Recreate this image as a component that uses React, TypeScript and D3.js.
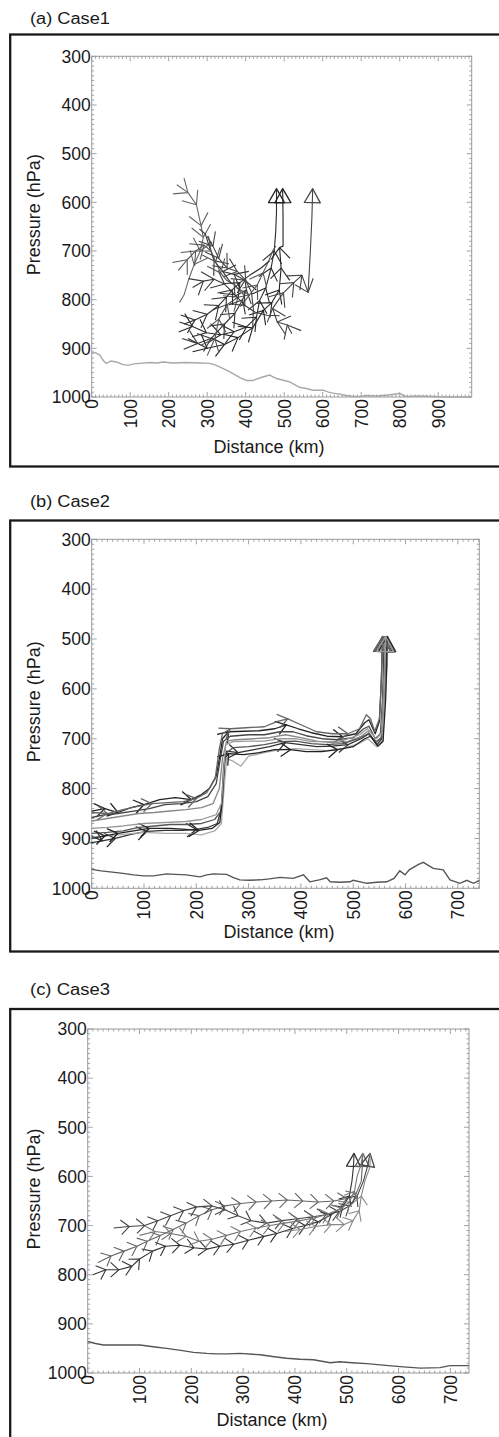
import * as d3 from "d3";
import { useEffect, useRef } from "react";

type Pt = [number, number]; // [distance km, pressure hPa]

// ---------- (a) Case1 ----------
const caseOneGround: Pt[] = [
  [0, 907], [12, 910], [21, 914], [30, 925], [38, 931], [50, 926], [64, 928], [80, 933], [94, 935],
  [110, 932], [125, 931], [150, 929], [170, 930], [185, 928], [210, 930], [246, 929], [280, 930],
  [306, 931], [320, 934], [332, 938], [350, 945], [367, 952], [385, 960], [402, 966], [419, 966],
  [440, 960], [462, 955], [480, 962], [500, 966], [514, 969], [528, 975], [540, 980], [560, 983],
  [575, 986], [601, 986], [615, 990], [627, 992], [645, 994], [661, 997], [680, 999], [696, 999],
  [713, 997], [740, 998], [770, 996], [800, 993], [817, 999], [850, 998], [887, 999], [930, 1000],
  [987, 1000],
];

const caseOneTracks: Pt[][] = [
  [[221, 564], [250, 580], [272, 605], [284, 648], [290, 672], [282, 700], [266, 728], [252, 758], [240, 790], [228, 806]],
  [[228, 846], [262, 855], [298, 868], [335, 872], [370, 866], [402, 856], [428, 836], [436, 802], [452, 776], [466, 735], [474, 700], [478, 660], [480, 620], [480, 572]],
  [[250, 880], [300, 900], [345, 892], [380, 878], [418, 858], [446, 822], [468, 806], [487, 780], [492, 735], [488, 693], [497, 690], [497, 630], [496, 572]],
  [[520, 870], [508, 852], [482, 846], [470, 818], [498, 786], [525, 765], [546, 750], [562, 785], [568, 700], [572, 630], [574, 572]],
  [[235, 880], [275, 890], [310, 880], [345, 850], [372, 828], [392, 800], [402, 780], [398, 760], [370, 748], [340, 742], [318, 720], [305, 690], [295, 665], [280, 655]],
  [[300, 915], [320, 880], [330, 840], [352, 810], [380, 795], [410, 790], [430, 770], [445, 745], [460, 720], [470, 700], [478, 690]],
  [[262, 775], [290, 762], [318, 758], [345, 768], [372, 790], [398, 812], [425, 826], [455, 832], [488, 833]],
  [[225, 740], [248, 718], [270, 700], [292, 688], [310, 700], [322, 722], [335, 745], [350, 760], [372, 770], [395, 790]],
  [[240, 850], [268, 842], [300, 830], [330, 812], [350, 795], [365, 780], [385, 765], [410, 750], [440, 735], [462, 720]],
  [[300, 670], [315, 690], [330, 715], [352, 735], [378, 742], [400, 760], [415, 785], [420, 820], [418, 860]],
];
const caseOneShades = ["#666", "#2a2a2a", "#222", "#444", "#333", "#555", "#3a3a3a", "#555", "#2e2e2e", "#444"];
const caseOneArrowTracks = [1, 2, 3];

// ---------- (b) Case2 ----------
const caseTwoGround: Pt[] = [
  [0, 962], [18, 965], [35, 967], [60, 970], [80, 973], [100, 975], [118, 975], [143, 971], [160, 972],
  [181, 973], [207, 977], [220, 973], [233, 971], [258, 972], [270, 978], [283, 983], [300, 984],
  [322, 983], [340, 981], [360, 978], [385, 980], [405, 973], [417, 987], [435, 983], [449, 979],
  [456, 987], [475, 988], [494, 987], [500, 984], [526, 990], [545, 988], [564, 987], [578, 980],
  [589, 965], [599, 973], [607, 963], [615, 958], [625, 952], [634, 948], [645, 955], [653, 960],
  [672, 963], [685, 983], [704, 990], [717, 984], [730, 990], [741, 984],
];

const caseTwoTracks: Pt[][] = [
  [[0, 845], [25, 840], [50, 848], [75, 838], [100, 832], [130, 822], [160, 818], [190, 822], [210, 812], [225, 800], [238, 775], [245, 735], [250, 700], [262, 686], [290, 685], [320, 684], [350, 680], [372, 672], [395, 680], [420, 688], [450, 695], [480, 696], [505, 690], [522, 668], [530, 662], [542, 690], [550, 665], [553, 600], [555, 540], [556, 495]],
  [[0, 858], [25, 852], [50, 850], [80, 845], [110, 840], [140, 832], [170, 830], [200, 826], [222, 816], [238, 790], [246, 740], [252, 705], [265, 695], [300, 692], [330, 692], [360, 686], [385, 686], [410, 694], [440, 700], [470, 702], [500, 698], [520, 680], [530, 675], [542, 700], [552, 690], [556, 620], [558, 550], [559, 495]],
  [[0, 865], [30, 860], [60, 855], [90, 850], [120, 848], [150, 845], [180, 842], [210, 838], [232, 830], [244, 800], [250, 740], [258, 705], [275, 702], [310, 700], [340, 698], [370, 692], [400, 698], [430, 705], [460, 708], [490, 706], [515, 695], [528, 685], [543, 708], [553, 700], [557, 620], [560, 550], [561, 495]],
  [[0, 895], [20, 905], [45, 900], [75, 892], [105, 886], [140, 884], [175, 884], [200, 882], [222, 878], [240, 870], [248, 840], [252, 760], [258, 725], [280, 728], [310, 722], [340, 716], [370, 708], [400, 712], [430, 716], [460, 715], [490, 712], [515, 700], [530, 690], [545, 712], [555, 700], [559, 620], [562, 550], [563, 495]],
  [[0, 890], [30, 888], [60, 885], [90, 878], [120, 875], [150, 872], [180, 872], [210, 870], [235, 862], [247, 845], [252, 790], [256, 730], [270, 718], [300, 716], [330, 712], [360, 706], [390, 705], [420, 710], [450, 712], [480, 710], [510, 700], [528, 690], [544, 706], [556, 695], [560, 620], [563, 550], [564, 495]],
  [[0, 898], [30, 895], [60, 892], [100, 888], [140, 890], [180, 890], [210, 893], [235, 885], [248, 870], [253, 800], [258, 740], [270, 745], [285, 755], [300, 735], [330, 728], [360, 722], [390, 720], [420, 722], [450, 724], [480, 720], [510, 710], [528, 700], [545, 716], [556, 705], [561, 620], [565, 550], [566, 495]],
  [[0, 900], [25, 895], [50, 890], [80, 885], [110, 880], [150, 880], [180, 882], [205, 884], [230, 880], [245, 868], [250, 820], [254, 740], [262, 730], [290, 732], [320, 728], [350, 722], [380, 722], [410, 726], [440, 726], [470, 722], [500, 716], [522, 700], [533, 695], [547, 715], [557, 705], [562, 620], [564, 550], [565, 495]],
  [[0, 848], [30, 850], [60, 842], [90, 835], [115, 830], [145, 828], [175, 826], [200, 820], [220, 808], [236, 780], [244, 720], [250, 690], [265, 680], [295, 678], [330, 676], [355, 665], [375, 660], [400, 672], [430, 686], [460, 690], [490, 690], [512, 680], [525, 652], [533, 660], [541, 685], [550, 660], [554, 580], [555, 530], [557, 495]],
  [[0, 880], [30, 878], [60, 875], [100, 870], [140, 868], [180, 866], [210, 862], [238, 852], [248, 830], [252, 770], [256, 712], [270, 706], [300, 705], [330, 705], [360, 700], [390, 700], [420, 706], [450, 706], [480, 704], [512, 692], [527, 680], [544, 700], [555, 688], [559, 610], [561, 550], [562, 495]],
];
const caseTwoShades = ["#222", "#444", "#888", "#333", "#555", "#aaa", "#222", "#666", "#999"];
const caseTwoArrowTracks = [0, 1, 2, 3, 4, 5, 6, 7, 8];
const caseTwoBarbStations = [15, 40, 110, 200, 275, 375, 480];
const caseTwoBarbTracks = [0, 3, 6, 7];

// ---------- (c) Case3 ----------
const caseThreeGround: Pt[] = [
  [0, 936], [15, 940], [30, 943], [60, 943], [101, 943], [130, 947], [152, 950], [180, 954], [204, 958],
  [230, 960], [249, 961], [270, 961], [294, 960], [333, 963], [360, 967], [384, 970], [410, 972],
  [436, 973], [468, 979], [487, 977], [510, 979], [539, 981], [570, 984], [603, 987], [642, 990],
  [680, 989], [699, 985], [736, 985],
];

const caseThreeTracks: Pt[][] = [
  [[10, 800], [35, 790], [60, 790], [85, 783], [100, 768], [125, 752], [150, 742], [178, 740], [205, 745], [230, 748], [255, 742], [282, 738], [310, 730], [340, 722], [365, 716], [395, 706], [420, 700], [445, 692], [470, 678], [492, 662], [505, 640], [510, 610], [513, 580], [514, 553]],
  [[20, 775], [45, 762], [70, 752], [95, 742], [115, 732], [140, 720], [165, 708], [190, 695], [215, 680], [240, 668], [265, 660], [295, 655], [325, 652], [355, 650], [385, 648], [415, 650], [445, 652], [475, 650], [500, 645], [518, 635], [528, 610], [530, 580], [531, 553]],
  [[50, 705], [80, 702], [110, 700], [135, 690], [160, 680], [185, 670], [210, 662], [240, 660], [265, 668], [290, 680], [315, 690], [345, 695], [375, 690], [405, 686], [435, 682], [460, 678], [485, 672], [505, 660], [520, 640], [532, 610], [540, 580], [545, 553]],
  [[100, 720], [130, 712], [160, 716], [190, 722], [215, 732], [240, 728], [268, 720], [295, 712], [325, 705], [352, 700], [380, 695], [410, 690], [440, 684], [465, 676], [490, 665], [505, 652], [515, 630], [520, 600], [528, 575], [531, 553]],
  [[380, 712], [410, 708], [440, 702], [470, 698], [495, 698], [512, 690], [524, 670], [528, 640], [535, 610], [545, 580], [545, 553]],
];
const caseThreeShades = ["#333", "#666", "#444", "#777", "#888"];
const caseThreeArrowTracks = [0, 1, 2];

const pressureTicks = [300, 400, 500, 600, 700, 800, 900, 1000];
const caseOneDistanceTicks = [0, 100, 200, 300, 400, 500, 600, 700, 800, 900];
const caseTwoDistanceTicks = [0, 100, 200, 300, 400, 500, 600, 700];
const caseThreeDistanceTicks = [0, 100, 200, 300, 400, 500, 600, 700];

const FONT = "'Liberation Sans', Arial, Helvetica, sans-serif";
const INK = "#1a1a1a";

interface PanelSpec {
  title: string;
  titleY: number;
  boxTop: number;
  boxBottom: number;
  left: number;
  right: number;
  top: number;
  bottom: number;
  xMax: number;
  xTicks: number[];
  xTitleX: number;
  xTitleY: number;
  ground: Pt[];
  groundColor: string;
  tracks: Pt[][];
  shades: string[];
  arrows: number[];
  barbStations: number[] | null;
  barbTracks: number[] | null;
  barbLen: number;
  barbAngle: number;
  lineWidth: number;
  arrowH: number;
  arrowW: number;
}

const panels: PanelSpec[] = [
  {
    title: "(a) Case1", titleY: 23.5, boxTop: 34.5, boxBottom: 466.5,
    left: 91.7, right: 471.7, top: 56.3, bottom: 397, xMax: 987, xTicks: caseOneDistanceTicks,
    xTitleX: 269, xTitleY: 453, ground: caseOneGround, groundColor: "#a8a8a8",
    tracks: caseOneTracks, shades: caseOneShades, arrows: caseOneArrowTracks,
    barbStations: null, barbTracks: null, barbLen: 15, barbAngle: 40, lineWidth: 1.1, arrowH: 14, arrowW: 16,
  },
  {
    title: "(b) Case2", titleY: 507, boxTop: 520.5, boxBottom: 951.5,
    left: 91.7, right: 479.3, top: 539.3, bottom: 888.3, xMax: 741, xTicks: caseTwoDistanceTicks,
    xTitleX: 279, xTitleY: 937.5, ground: caseTwoGround, groundColor: "#555",
    tracks: caseTwoTracks, shades: caseTwoShades, arrows: caseTwoArrowTracks,
    barbStations: caseTwoBarbStations, barbTracks: caseTwoBarbTracks, barbLen: 12, barbAngle: 35, lineWidth: 1.3, arrowH: 15, arrowW: 17,
  },
  {
    title: "(c) Case3", titleY: 995, boxTop: 1009, boxBottom: 1460,
    left: 87.7, right: 469, top: 1029, bottom: 1373, xMax: 736, xTicks: caseThreeDistanceTicks,
    xTitleX: 272, xTitleY: 1425.5, ground: caseThreeGround, groundColor: "#555",
    tracks: caseThreeTracks, shades: caseThreeShades, arrows: caseThreeArrowTracks,
    barbStations: null, barbTracks: null, barbLen: 11, barbAngle: 42, lineWidth: 1.1, arrowH: 13, arrowW: 14,
  },
];

function drawPanel(svg: d3.Selection<SVGSVGElement, unknown, null, undefined>, p: PanelSpec) {
  const g = svg.append("g");
  const x = d3.scaleLinear().domain([0, p.xMax]).range([p.left, p.right]);
  const y = d3.scaleLinear().domain([300, 1000]).range([p.top, p.bottom]);

  // title + outer frame
  g.append("text")
    .attr("x", 30)
    .attr("y", p.titleY)
    .attr("textLength", 80)
    .attr("lengthAdjust", "spacingAndGlyphs")
    .style("font-family", FONT)
    .style("font-size", "16px")
    .style("fill", INK)
    .text(p.title);

  g.append("rect")
    .attr("x", 10.2)
    .attr("y", p.boxTop)
    .attr("width", 520)
    .attr("height", p.boxBottom - p.boxTop)
    .attr("fill", "none")
    .attr("stroke", INK)
    .attr("stroke-width", 2.3);

  // plot frame with IDL-style ticks on all sides
  g.append("rect")
    .attr("x", p.left)
    .attr("y", p.top)
    .attr("width", p.right - p.left)
    .attr("height", p.bottom - p.top)
    .attr("fill", "none")
    .attr("stroke", "#9a9a9a")
    .attr("stroke-width", 1);

  const minorX = d3.range(0, p.xMax, 10);
  const minorY = d3.range(300, 1001, 10);
  const ticks = g.append("g").attr("stroke", "#9a9a9a").attr("stroke-width", 0.9);
  minorX.forEach((d) => {
    const len = p.xTicks.includes(d) ? 5 : 2.5;
    ticks.append("line").attr("x1", x(d)).attr("x2", x(d)).attr("y1", p.bottom).attr("y2", p.bottom - len);
    ticks.append("line").attr("x1", x(d)).attr("x2", x(d)).attr("y1", p.top).attr("y2", p.top + len);
  });
  minorY.forEach((d) => {
    const len = pressureTicks.includes(d) ? 5 : 2.5;
    ticks.append("line").attr("x1", p.left).attr("x2", p.left + len).attr("y1", y(d)).attr("y2", y(d));
    ticks.append("line").attr("x1", p.right).attr("x2", p.right - len).attr("y1", y(d)).attr("y2", y(d));
  });

  // tick labels
  g.append("g")
    .selectAll("text")
    .data(pressureTicks)
    .enter()
    .append("text")
    .attr("x", p.left - 1)
    .attr("y", (d) => y(d))
    .attr("dy", "0.36em")
    .attr("text-anchor", "end")
    .style("font-family", FONT)
    .style("font-size", "17.5px")
    .style("fill", INK)
    .text((d) => d);

  g.append("g")
    .selectAll("text")
    .data(p.xTicks)
    .enter()
    .append("text")
    .attr("transform", (d) => `translate(${x(d)},${p.bottom + 2}) rotate(-90)`)
    .attr("dy", "0.36em")
    .attr("text-anchor", "end")
    .style("font-family", FONT)
    .style("font-size", "17.5px")
    .style("fill", INK)
    .text((d) => d);

  // axis titles
  g.append("text")
    .attr("x", p.xTitleX)
    .attr("y", p.xTitleY)
    .attr("text-anchor", "middle")
    .style("font-family", FONT)
    .style("font-size", "18px")
    .style("fill", INK)
    .text("Distance (km)");

  g.append("text")
    .attr("transform", `translate(${39.5},${(p.top + p.bottom) / 2 - 12}) rotate(-90)`)
    .attr("text-anchor", "middle")
    .style("font-family", FONT)
    .style("font-size", "18px")
    .style("fill", INK)
    .text("Pressure (hPa)");

  const line = d3
    .line<Pt>()
    .x((d) => x(d[0]))
    .y((d) => y(d[1]));

  // ground surface
  g.append("path")
    .attr("d", line(p.ground))
    .attr("fill", "none")
    .attr("stroke", p.groundColor)
    .attr("stroke-width", 1.4);

  // trajectories
  const trackG = g.append("g").attr("fill", "none").attr("stroke-linejoin", "round");
  const ang = (p.barbAngle * Math.PI) / 180;
  p.tracks.forEach((track, ti) => {
    const color = p.shades[ti % p.shades.length];
    trackG
      .append("path")
      .attr("d", line(track))
      .attr("stroke", color)
      .attr("stroke-width", p.lineWidth);

    // chevron marks along the path
    const px: [number, number][] = track.map((d) => [x(d[0]), y(d[1])]);
    let idx: number[] = [];
    if (p.barbStations) {
      if (p.barbTracks && !p.barbTracks.includes(ti)) idx = [];
      else
        idx = p.barbStations
          .map((s) => d3.minIndex(track, (d) => Math.abs(d[0] - s)))
          .filter((i) => i > 0 && i < track.length - 3);
    } else {
      idx = d3.range(1, Math.max(1, track.length - 3));
    }
    idx.forEach((i) => {
      const [x0, y0] = px[i - 1];
      const [x1, y1] = px[i];
      const a = Math.atan2(y1 - y0, x1 - x0);
      const arm1: [number, number] = [x1 + p.barbLen * Math.cos(a + Math.PI - ang), y1 + p.barbLen * Math.sin(a + Math.PI - ang)];
      const arm2: [number, number] = [x1 + p.barbLen * Math.cos(a + Math.PI + ang), y1 + p.barbLen * Math.sin(a + Math.PI + ang)];
      trackG
        .append("path")
        .attr("d", `M${arm1[0]},${arm1[1]}L${x1},${y1}L${arm2[0]},${arm2[1]}`)
        .attr("stroke", color)
        .attr("stroke-width", p.lineWidth);
    });

    // arrow head at the end
    if (p.arrows.includes(ti)) {
      const [tx, ty] = px[px.length - 1];
      const [bx, by] = px[px.length - 2];
      const a = Math.atan2(ty - by, tx - bx);
      const cx = tx - p.arrowH * Math.cos(a);
      const cy = ty - p.arrowH * Math.sin(a);
      const nx = -Math.sin(a) * (p.arrowW / 2);
      const ny = Math.cos(a) * (p.arrowW / 2);
      trackG
        .append("path")
        .attr("d", `M${tx},${ty}L${cx + nx},${cy + ny}L${cx - nx},${cy - ny}Z`)
        .attr("stroke", color)
        .attr("stroke-width", 1.3);
    }
  });
}

export default function App() {
  const svgRef = useRef<SVGSVGElement>(null);

  useEffect(() => {
    if (!svgRef.current) return;
    const svg = d3.select(svgRef.current);
    svg.selectAll("*").remove();
    panels.forEach((p) => drawPanel(svg, p));
  }, []);

  return (
    <svg
      ref={svgRef}
      width={499}
      height={1437}
      style={{ position: "absolute", left: 0, top: 0, background: "#fff", display: "block" }}
    />
  );
}
